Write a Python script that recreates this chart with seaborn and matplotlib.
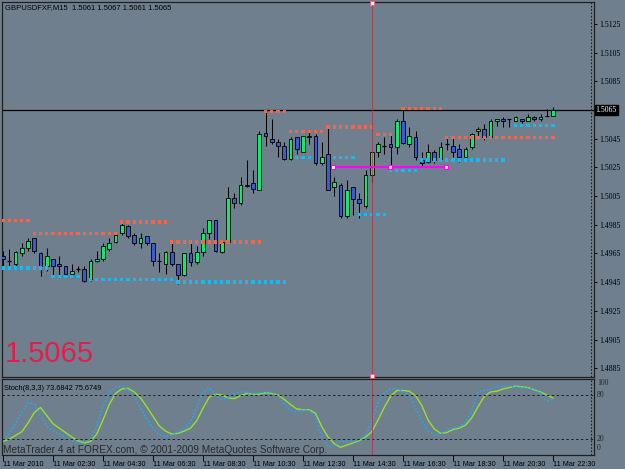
import numpy as np
import pandas as pd
import matplotlib
matplotlib.use('Agg')
import matplotlib.pyplot as plt
import seaborn as sns

sns.set_style('ticks')
plt.rcParams['font.family'] = ['Liberation Sans', 'DejaVu Sans']

BG = '#6f7f8e'
BULL = '#10e870'
BEAR = '#3b5ccf'

# GBPUSD M15, 11 Mar 2010 00:30 .. 22:30 (89 bars)
opens = [1.4963, 1.4960, 1.4958, 1.4965, 1.4969, 1.4976, 1.4965, 1.4956, 1.4961, 1.4958,
         1.4956, 1.4951, 1.4954, 1.4954, 1.4947, 1.4960, 1.4961, 1.4968, 1.4973, 1.4979,
         1.4984, 1.4978, 1.4972, 1.4977, 1.4972, 1.4960, 1.4958, 1.4966, 1.4958, 1.4950,
         1.4965, 1.4959, 1.4966, 1.4979, 1.4988, 1.4966, 1.4973, 1.5004, 1.5000, 1.5013,
         1.5014, 1.5009, 1.5049, 1.5045, 1.5043, 1.5040, 1.5031, 1.5046, 1.5036, 1.5046,
         1.5047, 1.5028, 1.5034, 1.5011, 1.5013, 1.4991, 1.5011, 1.5003, 1.4998, 1.5020,
         1.5036, 1.5040, 1.5041, 1.5039, 1.5057, 1.5041, 1.5046, 1.5030, 1.5029, 1.5036,
         1.5031, 1.5041, 1.5040, 1.5038, 1.5032, 1.5039, 1.5050, 1.5052, 1.5046, 1.5057,
         1.5059, 1.5059, 1.5057, 1.5059, 1.5057, 1.5060, 1.5059, 1.5061, 1.5061]
highs = [1.4967, 1.4968, 1.4967, 1.4972, 1.4976, 1.4976, 1.4966, 1.4969, 1.4961, 1.4963,
         1.4956, 1.4958, 1.4956, 1.4956, 1.4961, 1.4967, 1.4972, 1.4976, 1.4980, 1.4986,
         1.4985, 1.4979, 1.4979, 1.4977, 1.4972, 1.4965, 1.4967, 1.4972, 1.4958, 1.4965,
         1.4972, 1.4970, 1.4983, 1.4988, 1.4988, 1.4974, 1.5011, 1.5007, 1.5018, 1.5030,
         1.5023, 1.5050, 1.5064, 1.5059, 1.5045, 1.5043, 1.5046, 1.5046, 1.5047, 1.5050,
         1.5048, 1.5043, 1.5053, 1.5018, 1.5014, 1.5016, 1.5011, 1.5007, 1.5023, 1.5036,
         1.5043, 1.5046, 1.5048, 1.5059, 1.5066, 1.5053, 1.5050, 1.5036, 1.5041, 1.5037,
         1.5043, 1.5046, 1.5046, 1.5041, 1.5039, 1.5049, 1.5053, 1.5055, 1.5059, 1.5059,
         1.5060, 1.5059, 1.5061, 1.5059, 1.5062, 1.5061, 1.5062, 1.5066, 1.5067]
lows = [1.4955, 1.4955, 1.4955, 1.4963, 1.4967, 1.4965, 1.4949, 1.4953, 1.4949, 1.4949,
        1.4950, 1.4950, 1.4952, 1.4945, 1.4946, 1.4959, 1.4960, 1.4967, 1.4972, 1.4978,
        1.4976, 1.4971, 1.4969, 1.4971, 1.4956, 1.4952, 1.4951, 1.4956, 1.4944, 1.4949,
        1.4956, 1.4958, 1.4963, 1.4975, 1.4966, 1.4965, 1.4972, 1.4997, 1.4999, 1.5011,
        1.5007, 1.5009, 1.5040, 1.5041, 1.5032, 1.5030, 1.5030, 1.5034, 1.5036, 1.5041,
        1.5027, 1.5027, 1.5009, 1.5005, 1.4990, 1.4990, 1.4992, 1.4990, 1.4997, 1.5015,
        1.5032, 1.5034, 1.5024, 1.5034, 1.5041, 1.5039, 1.5030, 1.5025, 1.5028, 1.5028,
        1.5030, 1.5037, 1.5032, 1.5029, 1.5030, 1.5038, 1.5046, 1.5044, 1.5046, 1.5054,
        1.5053, 1.5053, 1.5057, 1.5056, 1.5057, 1.5057, 1.5057, 1.5061, 1.5061]
closes = [1.4961, 1.4960, 1.4966, 1.4969, 1.4974, 1.4967, 1.4956, 1.4963, 1.4956, 1.4956,
          1.4951, 1.4953, 1.4954, 1.4946, 1.4960, 1.4961, 1.4970, 1.4972, 1.4978, 1.4985,
          1.4977, 1.4972, 1.4976, 1.4972, 1.4960, 1.4960, 1.4966, 1.4958, 1.4950, 1.4965,
          1.4959, 1.4966, 1.4979, 1.4988, 1.4967, 1.4973, 1.5004, 1.5000, 1.5013, 1.5012,
          1.5010, 1.5048, 1.5047, 1.5043, 1.5040, 1.5031, 1.5045, 1.5038, 1.5047, 1.5047,
          1.5028, 1.5032, 1.5009, 1.5015, 1.4991, 1.5009, 1.5003, 1.5000, 1.5020, 1.5036,
          1.5041, 1.5040, 1.5039, 1.5057, 1.5042, 1.5047, 1.5032, 1.5028, 1.5036, 1.5030,
          1.5039, 1.5041, 1.5036, 1.5032, 1.5038, 1.5048, 1.5052, 1.5046, 1.5057, 1.5059,
          1.5057, 1.5059, 1.5060, 1.5057, 1.5060, 1.5059, 1.5060, 1.5061, 1.5065]

# Stoch(8,3,3): main (dotted) and signal (solid)
stoch_main = [19, 27, 42, 56, 69, 68, 52, 38, 31, 27,
              22, 18, 15, 17, 21, 37, 65, 82, 91, 92,
              87, 78, 62, 47, 35, 26, 23, 26, 30, 35,
              43, 63, 84, 90, 80, 74, 76, 82, 84, 83,
              81, 83, 84, 83, 79, 68, 58, 57, 60, 59,
              50, 24, 9, 12, 17, 17, 17, 19, 25, 45,
              69, 83, 88, 88, 85, 80, 62, 45, 31, 26,
              27, 32, 35, 37, 43, 58, 85, 86, 88, 91,
              92, 92, 91, 90, 89, 88, 83, 72, 73.6842]
stoch_signal = [17, 20, 25, 30, 42, 56, 63, 52, 41, 35,
                29, 23, 18, 15, 17, 27, 46, 67, 82, 88,
                89, 84, 76, 64, 51, 38, 31, 27, 28, 31,
                35, 45, 62, 77, 81, 80, 76, 75, 79, 82,
                81, 81, 83, 82, 80, 74, 67, 61, 60, 60,
                55, 37, 23, 14, 9, 12, 15, 18, 23, 30,
                46, 63, 78, 86, 86, 85, 79, 66, 46, 34,
                28, 29, 33, 35, 39, 49, 64, 78, 84, 85,
                88, 90, 92, 91, 90, 87, 84, 80, 75.6749]

time_labels = ['11 Mar 2010', '11 Mar 02:30', '11 Mar 04:30', '11 Mar 06:30',
               '11 Mar 08:30', '11 Mar 10:30', '11 Mar 12:30', '11 Mar 14:30',
               '11 Mar 16:30', '11 Mar 18:30', '11 Mar 20:30', '11 Mar 22:30']
price_ticks = [1.4885, 1.4905, 1.4925, 1.4945, 1.4965, 1.4985, 1.5005,
               1.5025, 1.5045, 1.5065, 1.5085, 1.5105, 1.5125]

# resistance / support dots: first bar, last bar, level
res_start = [0, 5, 19, 27, 42, 46, 52, 60, 64, 71]
res_end = [4, 18, 26, 41, 45, 51, 59, 62, 70, 88]
res_price = [1.4988, 1.4979, 1.4987, 1.4973, 1.5064, 1.5050, 1.5053, 1.5048, 1.5066, 1.5046]
sup_start = [0, 8, 14, 28, 47, 53, 57, 62, 67, 82]
sup_end = [7, 12, 27, 45, 49, 56, 61, 66, 80, 88]
sup_price = [1.4955, 1.4949, 1.4947, 1.4945, 1.5032, 1.5032, 1.4992, 1.5023, 1.5030, 1.5054]

trend_bars = [52.8, 61.9, 70.9]
trend_price = 1.5025
vline_bar = 59
bid = 1.5065

n = len(opens)
bars = np.arange(n)

fig = plt.figure(figsize=(6.25, 4.69), dpi=100, facecolor=BG)
ax = fig.add_axes([0.0032, 0.1962, 0.9472, 0.7996])
ax2 = fig.add_axes([0.0032, 0.0299, 0.9472, 0.162])
for a in (ax, ax2):
    a.set_facecolor(BG)
    for s in a.spines.values():
        s.set_color('#202020')
        s.set_linewidth(0.9)
    a.set_xlim(-0.16, 94.56)

# candles
ax.vlines(bars, lows, highs, color='black', lw=0.75, zorder=3)
for i in range(n):
    o, c = opens[i], closes[i]
    if abs(o - c) < 1e-7:
        ax.hlines(o, i - 0.35, i + 0.35, color='black', lw=0.9, zorder=4)
    else:
        ax.bar(i, abs(c - o), bottom=min(o, c), width=0.62,
               color=BULL if c > o else BEAR, edgecolor='black', lw=0.6, zorder=4)

# level dots
rows = []
for s, e, p in zip(res_start, res_end, res_price):
    rows += [{'bar': b, 'price': p, 'kind': 'res'} for b in range(s, e + 1)]
for s, e, p in zip(sup_start, sup_end, sup_price):
    rows += [{'bar': b, 'price': p, 'kind': 'sup'} for b in range(s, e + 1)]
dots = pd.DataFrame(rows)
sns.scatterplot(data=dots, x='bar', y='price', hue='kind', ax=ax, marker='s', s=6,
                linewidth=0, palette={'res': '#f2664a', 'sup': '#18b8f0'},
                legend=False, zorder=5)
ax.set_xlabel('')
ax.set_ylabel('')

ax.axhline(bid, color='black', lw=0.9, zorder=2)
ax.plot(trend_bars, [trend_price] * 3, color='#ff00ff', lw=1.5, zorder=6)
ax.plot(trend_bars, [trend_price] * 3, ls='none', marker='s', ms=3, mfc='white',
        mec='#ff00ff', mew=0.8, zorder=7)
ax.axvline(vline_bar, color='#a83848', lw=0.55, zorder=6)
ax.plot([vline_bar, vline_bar], [1.51392, 1.48795], ls='none', marker='s', ms=2.6,
        mfc='white', mec='#ff6080', mew=0.7, zorder=7, clip_on=False)
ax.axvline(94.08, color='#202020', lw=0.8, ls=(0, (1.5, 1.5)))

ax.set_ylim(1.487894, 1.514026)
ax.set_xticks([])
ax.yaxis.tick_right()
ax.set_yticks(price_ticks)
ax.set_yticklabels(['' if abs(p - bid) < 1e-7 else f'{p:.4f}' for p in price_ticks],
                   fontsize=5.6, family='Liberation Serif')
ax.tick_params(axis='y', direction='out', length=2.4, width=0.7, pad=1.5, colors='black')
ax.text(1.003, (bid - 1.487894) / (1.514026 - 1.487894), f'{bid:.4f}', transform=ax.transAxes,
        fontsize=5.6, family='Liberation Serif', color='white', va='center', ha='left',
        bbox=dict(boxstyle='square,pad=0.15', fc='black', ec='black'))

ax.text(0.005, 0.984, 'GBPUSDFXF,M15  1.5061 1.5067 1.5061 1.5065', transform=ax.transAxes,
        fontsize=5.5, color='black', va='center', ha='left')
ax.text(0.004, 0.062, '1.5065', transform=ax.transAxes, fontsize=21, color='#e0204a',
        va='center', ha='left')

# stochastic
sns.lineplot(x=bars, y=stoch_signal, ax=ax2, color='#96e02c', lw=1.0)
sns.lineplot(x=bars, y=stoch_main, ax=ax2, color='#1aaef0', lw=1.2, linestyle=(0, (1, 1.2)))
ax2.axhline(80, color='#202020', lw=0.7, ls=(0, (2.5, 2.5)))
ax2.axhline(20, color='#202020', lw=0.7, ls=(0, (2.5, 2.5)))
ax2.axvline(vline_bar, color='#a83848', lw=0.55)
ax2.axvline(94.08, color='#202020', lw=0.8, ls=(0, (1.5, 1.5)))
ax2.set_ylim(-1.4, 101.6)
ax2.set_yticks([])
for val, lab in [(96, '100'), (80, '80'), (20, '20'), (8, '0')]:
    ax2.text(1.005, (val + 1.4) / 103, lab, transform=ax2.transAxes, fontsize=5.6,
             family='Liberation Serif', va='center', ha='left')
ax2.text(0.003, 0.87, 'Stoch(8,3,3) 73.6842 75.6749', transform=ax2.transAxes,
         fontsize=5.3, color='black', va='center', ha='left')
ax2.text(0.002, 0.07, 'MetaTrader 4 at FOREX.com, \u00a9 2001-2009 MetaQuotes Software Corp.',
         transform=ax2.transAxes, fontsize=7.3, color='#2a2a2a', va='center', ha='left')
ax2.set_xticks(bars[::8])
ax2.set_xticklabels(time_labels, fontsize=5.2, ha='left')
ax2.tick_params(axis='x', direction='out', length=4, width=0.7, pad=0.5, colors='black')
ax2.set_xlabel('')
ax2.set_ylabel('')

fig.savefig('out.png', dpi=100, facecolor=BG)
